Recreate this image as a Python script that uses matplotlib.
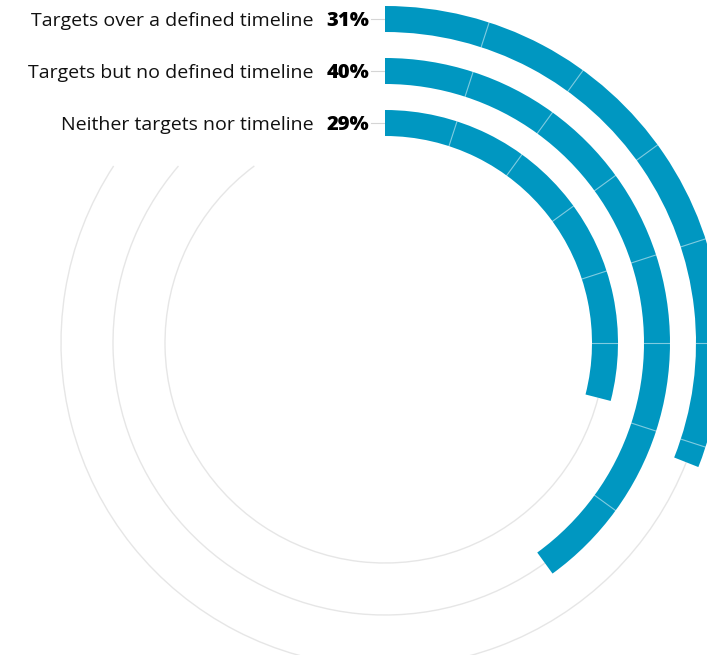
import numpy as np
import matplotlib
matplotlib.use('Agg')
import matplotlib.pyplot as plt
from matplotlib.patches import Wedge, Arc

# ring data, outermost first
labels = ['Targets over a defined timeline',
          'Targets but no defined timeline',
          'Neither targets nor timeline']
values = [31, 40, 29]
step = 5  # every ring is cut into 5% pieces

W, H = 707, 655
fig = plt.figure(figsize=(W / 100, H / 100), dpi=100)
ax = fig.add_axes([0, 0, 1, 1])
ax.set_xlim(0, W)
ax.set_ylim(0, H)
ax.axis('off')

blue = '#0097c1'
track = '#e6e6e6'
cx, cy = 385, 312          # centre of the rings
radii = [324, 272, 220]    # middle of each ring
width = 26
top_clip = 489             # grey tracks stop under the label block

for lab, val, r in zip(labels, values, radii):
    end = val / 100 * 360

    # grey remainder of the ring (clockwise from the end of the bar)
    a = np.degrees(np.arccos((top_clip - cy) / r))
    ax.add_patch(Arc((cx, cy), 2 * r, 2 * r, theta1=a - 270, theta2=90 - end,
                     color=track, lw=1.0, zorder=1))

    # the bar itself, clockwise from 12 o'clock
    ax.add_patch(Wedge((cx, cy), r + width / 2, 90 - end, 90, width=width,
                       facecolor=blue, lw=0, zorder=2))

    # thin separators every 5%
    for k in np.arange(step, val, step):
        t = np.radians(90 - k / 100 * 360)
        ax.plot([cx + (r - width / 2) * np.cos(t), cx + (r + width / 2) * np.cos(t)],
                [cy + (r - width / 2) * np.sin(t), cy + (r + width / 2) * np.sin(t)],
                color='white', alpha=0.5, lw=0.8, zorder=3)

    # leader line, value and label
    y = cy + r
    ax.plot([cx - 14, cx], [y, y], color='#d5d5d5', lw=0.8, zorder=1)
    pct = ax.text(cx - 16, y - 6.5, f'{val}%', ha='right', va='baseline',
                  fontsize=14.5, fontweight=800, family='Open Sans', color='black')
    ax.annotate(lab, xy=(0, y - 6.5), xycoords=(pct, 'data'),
                xytext=(-9, 0), textcoords='offset points',
                ha='right', va='baseline', fontsize=14, family='Open Sans',
                color='#111111')

fig.savefig('out.png', dpi=100)
